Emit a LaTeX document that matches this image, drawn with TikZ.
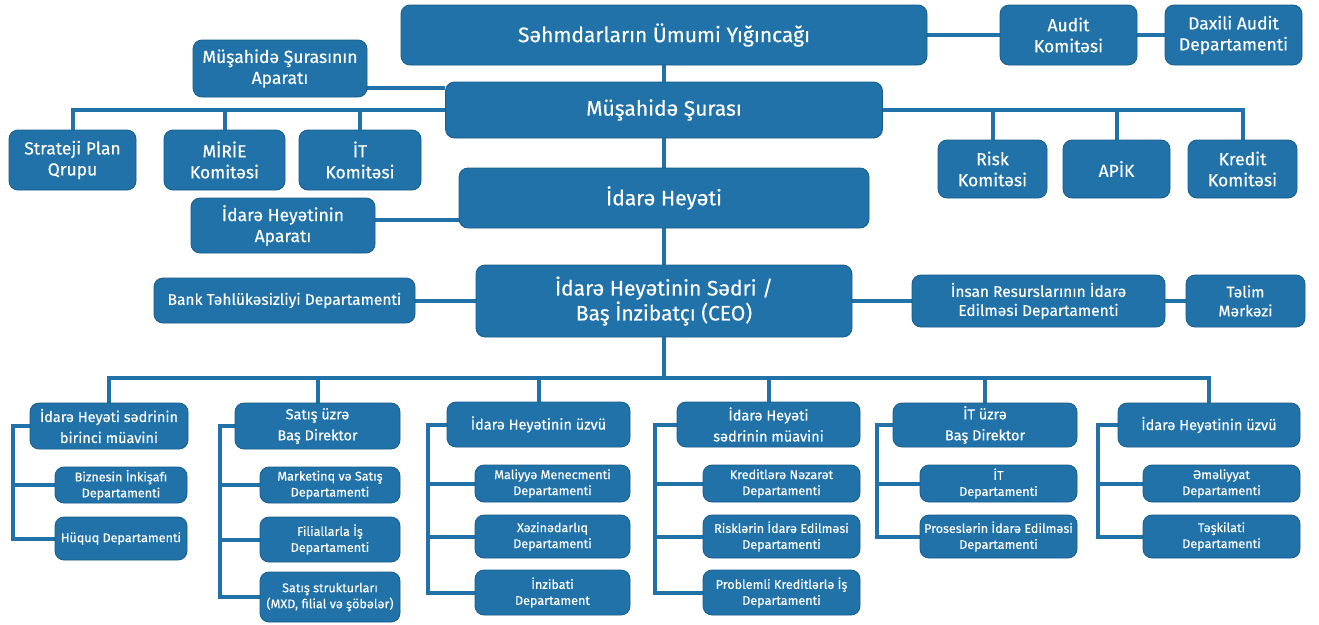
\documentclass[tikz,border=0pt]{standalone}
\usepackage{fontspec}
\setmainfont{Fira Sans}[FakeBold=0.35]
\definecolor{orgblue}{RGB}{32,114,168}
\definecolor{orgedge}{RGB}{24,92,138}
\pgfdeclarelayer{back}
\pgfdeclarelayer{bg}
\pgfsetlayers{back,bg,main}
\begin{document}
\begin{tikzpicture}[x=1pt,y=-1pt,
  box/.style={fill=orgblue, draw=orgedge, line width=0.8pt, rounded corners=9pt,
              text=white, align=center, inner sep=1pt},
  link/.style={draw=orgblue, line width=4pt},
  big/.style={font=\fontsize{21}{25}\selectfont},
  mid/.style={font=\fontsize{17.5}{21}\selectfont},
  sml/.style={font=\fontsize{15.5}{19}\selectfont},
  head/.style={font=\fontsize{14.5}{21}\selectfont},
  sub/.style={font=\fontsize{12.6}{16}\selectfont},
  sz/.style 2 args={minimum width=#1pt, minimum height=#2pt},
]
\begin{pgfonlayer}{back}
  \fill[white] (0,0) rectangle (1319,624);
\end{pgfonlayer}
\useasboundingbox (0,0) rectangle (1319,624);

% governance tier
\node[box,big,sz={526}{60}] (suy) at (664,35) {Səhmdarların Ümumi Yığıncağı};
\node[box,mid,sz={137}{60}] (audit) at (1068.5,35) {Audit\\Komitəsi};
\node[box,mid,sz={137}{60}] (daxili) at (1233.5,35) {Daxili Audit\\Departamenti};
\node[box,mid,sz={174}{57}] (msap) at (280,68.5) {Müşahidə Şurasının\\Aparatı};
\node[box,big,sz={437}{56}] (ms) at (664,110) {Müşahidə Şurası};
\node[box,mid,sz={127}{60}] (strat) at (72.5,160) {Strateji Plan\\Qrupu};
\node[box,mid,sz={121}{60}] (mirie) at (224.5,160) {MİRİE\\Komitəsi};
\node[box,mid,sz={122}{60}] (itk) at (360,160) {İT\\Komitəsi};
\node[box,mid,sz={109}{58}] (risk) at (992.5,169) {Risk\\Komitəsi};
\node[box,mid,sz={107}{58}] (apik) at (1116.5,169) {APİK};
\node[box,mid,sz={109}{58}] (kredit) at (1242.5,169) {Kredit\\Komitəsi};
\node[box,big,sz={410}{60}] (ih) at (664,198) {İdarə Heyəti};
\node[box,mid,sz={184}{55}] (ihap) at (283,225.5) {İdarə Heyətinin\\Aparatı};
\node[box,big,sz={376}{72}] (ceo) at (664,301) {İdarə Heyətinin Sədri /\\Baş İnzibatçı (CEO)};
\node[box,sml,sz={261}{45}] (bank) at (284.5,300.5) {Bank Təhlükəsizliyi Departamenti};
\node[box,sml,sz={253}{52}] (insan) at (1038.5,301) {İnsan Resurslarının İdarə\\Edilməsi Departamenti};
\node[box,sml,sz={119}{52}] (telim) at (1245.5,301) {Təlim\\Mərkəzi};

% executive columns
\node[box,head,sz={158}{46}] (head1) at (109,426) {İdarə Heyəti sədrinin\\birinci müavini};
\node[box,sub,sz={132}{36}] (biz) at (121,485) {Biznesin İnkişafı\\Departamenti};
\node[box,sub,sz={132}{43}] (huq) at (121,538.5) {Hüquq Departamenti};

\node[box,head,sz={165}{46}] (head2) at (317.5,426) {Satış üzrə\\Baş Direktor};
\node[box,sub,sz={140}{36}] (mark) at (330,485) {Marketinq və Satış\\Departamenti};
\node[box,sub,sz={140}{45}] (fil) at (330,539.5) {Filiallarla İş\\Departamenti};
\node[box,sub,sz={140}{50}] (sat) at (330,597) {Satış strukturları\\(MXD, filial və şöbələr)};

\node[box,head,sz={183}{45}] (head3) at (538.5,424.5) {İdarə Heyətinin üzvü};
\node[box,sub,sz={155}{37}] (mal) at (552.5,483.5) {Maliyyə Menecmenti\\Departamenti};
\node[box,sub,sz={155}{43}] (xez) at (552.5,536.5) {Xəzinədarlıq\\Departamenti};
\node[box,sub,sz={155}{45}] (inz) at (552.5,592.5) {İnzibati\\Departament};

\node[box,head,sz={183}{45}] (head4) at (768.5,424.5) {İdarə Heyəti\\sədrinin müavini};
\node[box,sub,sz={157}{37}] (kn) at (781.5,483.5) {Kreditlərə Nəzarət\\Departamenti};
\node[box,sub,sz={157}{43}] (rie) at (781.5,536.5) {Risklərin İdarə Edilməsi\\Departamenti};
\node[box,sub,sz={157}{45}] (prob) at (781.5,592.5) {Problemli Kreditlərlə İş\\Departamenti};

\node[box,head,sz={184}{44}] (head5) at (985,425) {İT üzrə\\Baş Direktor};
\node[box,sub,sz={157}{37}] (itd) at (998.5,483.5) {İT\\Departamenti};
\node[box,sub,sz={157}{43}] (pros) at (998.5,536.5) {Proseslərin İdarə Edilməsi\\Departamenti};

\node[box,head,sz={182}{44}] (head6) at (1209,425) {İdarə Heyətinin üzvü};
\node[box,sub,sz={157}{37}] (ema) at (1221.5,483.5) {Əməliyyat\\Departamenti};
\node[box,sub,sz={157}{43}] (tes) at (1221.5,536.5) {Təşkilati\\Departamenti};

% helper points for connector routing
\coordinate (bus) at (664,378);
\coordinate (y88) at (0,88);
\coordinate (y220) at (0,220);
\coordinate (c1) at (13,0);
\coordinate (c2) at (220,0);
\coordinate (c3) at (428,0);
\coordinate (c4) at (655,0);
\coordinate (c5) at (877,0);
\coordinate (c6) at (1098,0);

\begin{pgfonlayer}{bg}
  % central spine
  \draw[link] (suy.south) -- (ms.north);
  \draw[link] (ms.south) -- (ih.north);
  \draw[link] (ih.south) -- (ceo.north);
  \draw[link] (ceo.south) -- (bus);
  % audit branch
  \draw[link] (suy.east) -- (audit.west);
  \draw[link] (audit.east) -- (daxili.west);
  % supervisory board branches
  \draw[link] (msap.east |- y88) -- (ms.west |- y88);
  \draw[link] (ms.west) -| (strat.north);
  \draw[link] (mirie.north) -- (mirie.north |- ms.west);
  \draw[link] (itk.north) -- (itk.north |- ms.west);
  \draw[link] (ms.east) -| (kredit.north);
  \draw[link] (risk.north) -- (risk.north |- ms.east);
  \draw[link] (apik.north) -- (apik.north |- ms.east);
  % management board and CEO side units
  \draw[link] (ihap.east |- y220) -- (ih.west |- y220);
  \draw[link] (bank.east) -- (bank.east -| ceo.west);
  \draw[link] (ceo.east |- insan.west) -- (insan.west);
  \draw[link] (insan.east) -- (telim.west);
  % bus to the executive columns
  \draw[link] (head1.north) |- (bus) -| (head6.north);
  \foreach \h in {head2,head3,head4,head5}
    \draw[link] (\h.north) -- (\h.north |- bus);
  % column combs
  \draw[link] (head1.west) -- (c1 |- head1.west) |- (huq.west);
  \draw[link] (c1 |- biz.west) -- (biz.west);
  \draw[link] (head2.west) -- (c2 |- head2.west) |- (sat.west);
  \foreach \s in {mark,fil} \draw[link] (c2 |- \s.west) -- (\s.west);
  \draw[link] (head3.west) -- (c3 |- head3.west) |- (inz.west);
  \foreach \s in {mal,xez} \draw[link] (c3 |- \s.west) -- (\s.west);
  \draw[link] (head4.west) -- (c4 |- head4.west) |- (prob.west);
  \foreach \s in {kn,rie} \draw[link] (c4 |- \s.west) -- (\s.west);
  \draw[link] (head5.west) -- (c5 |- head5.west) |- (pros.west);
  \draw[link] (c5 |- itd.west) -- (itd.west);
  \draw[link] (head6.west) -- (c6 |- head6.west) |- (tes.west);
  \draw[link] (c6 |- ema.west) -- (ema.west);
\end{pgfonlayer}
\end{tikzpicture}
\end{document}
